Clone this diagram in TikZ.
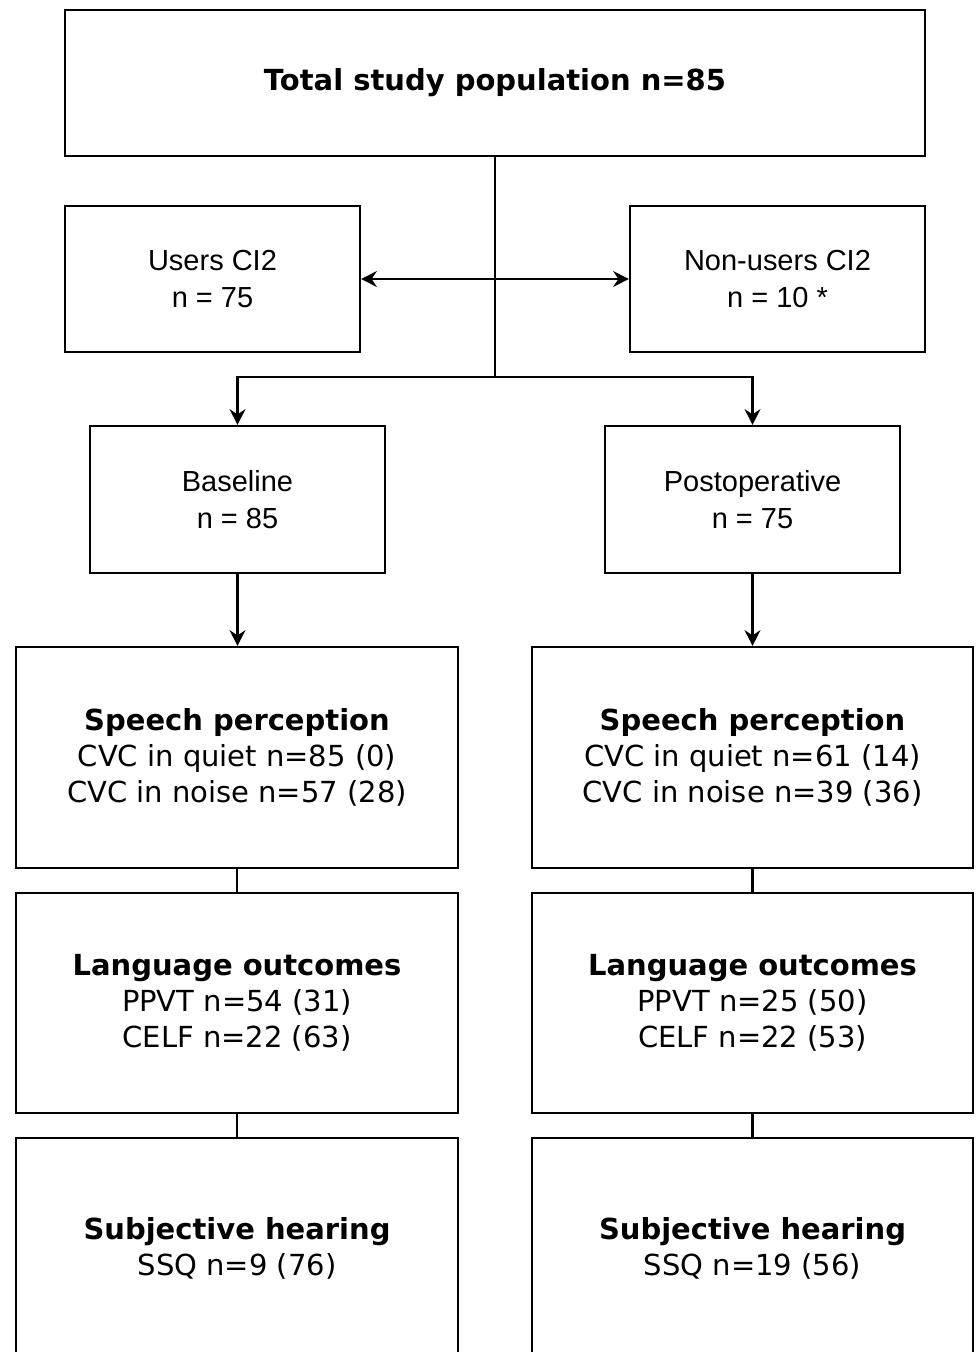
\documentclass[tikz,border=0pt]{standalone}
\usepackage{fontspec}
\setmainfont{Liberation Sans}
\newfontfamily\dv{DejaVu Sans}
\usetikzlibrary{arrows.meta}
\tikzset{
  bx/.style 2 args={draw=black, line width=1.2pt, rectangle, inner sep=0pt,
    minimum width=#1*0.02cm, minimum height=#2*0.02cm, align=center},
  small/.style={font=\fontsize{16.5}{21}\selectfont},
  big/.style={font=\dv\fontsize{16.5}{20.5}\selectfont},
  conn/.style={line width=1.2pt},
  arr/.style={line width=1.2pt, -{Stealth[length=9pt, width=9pt, inset=3pt]}}
}
\begin{document}
\begin{tikzpicture}[x=0.02cm, y=-0.02cm]
\useasboundingbox (0,0) rectangle (975,1352);
\clip (0,0) rectangle (975,1352);
\node[bx={860}{146}, big] (top) at (495,83) {\bfseries Total study population n=85};
\node[bx={295}{146}, small] (users) at (212.5,279) {Users CI2\\n = 75};
\node[bx={295}{146}, small] (non) at (777.5,279) {Non-users CI2\\n = 10 *};
\node[bx={295}{147}, small] (base) at (237.5,499.5) {Baseline\\n = 85};
\node[bx={295}{147}, small] (post) at (752.5,499.5) {Postoperative\\n = 75};
\node[bx={442}{221}, big] (spL) at (237,757.5) {\textbf{Speech perception}\\CVC in quiet n=85 (0)\\CVC in noise n=57 (28)};
\node[bx={441}{221}, big] (spR) at (752.5,757.5) {\textbf{Speech perception}\\CVC in quiet n=61 (14)\\CVC in noise n=39 (36)};
\node[bx={442}{220}, big] (lgL) at (237,1003) {\textbf{Language outcomes}\\PPVT n=54 (31)\\CELF n=22 (63)};
\node[bx={441}{220}, big] (lgR) at (752.5,1003) {\textbf{Language outcomes}\\PPVT n=25 (50)\\CELF n=22 (53)};
\node[bx={442}{221}, big] (sbL) at (237,1248.5) {\textbf{Subjective hearing}\\SSQ n=9 (76)};
\node[bx={441}{221}, big] (sbR) at (752.5,1248.5) {\textbf{Subjective hearing}\\SSQ n=19 (56)};
\coordinate (mid) at (495,279);
\coordinate (split) at (495,377);
\draw[conn] (top.south) -- (split);
\draw[arr] (mid) -- (users.east);
\draw[arr] (mid) -- (non.west);
\draw[arr] (split) -| (base.north);
\draw[arr] (split) -| (post.north);
\draw[arr] (base.south) -- (base.south |- spL.north);
\draw[arr] (post.south) -- (spR.north);
\draw[conn] (spL.south) -- (lgL.north);
\draw[conn] (spR.south) -- (lgR.north);
\draw[conn] (lgL.south) -- (sbL.north);
\draw[conn] (lgR.south) -- (sbR.north);
\end{tikzpicture}
\end{document}
